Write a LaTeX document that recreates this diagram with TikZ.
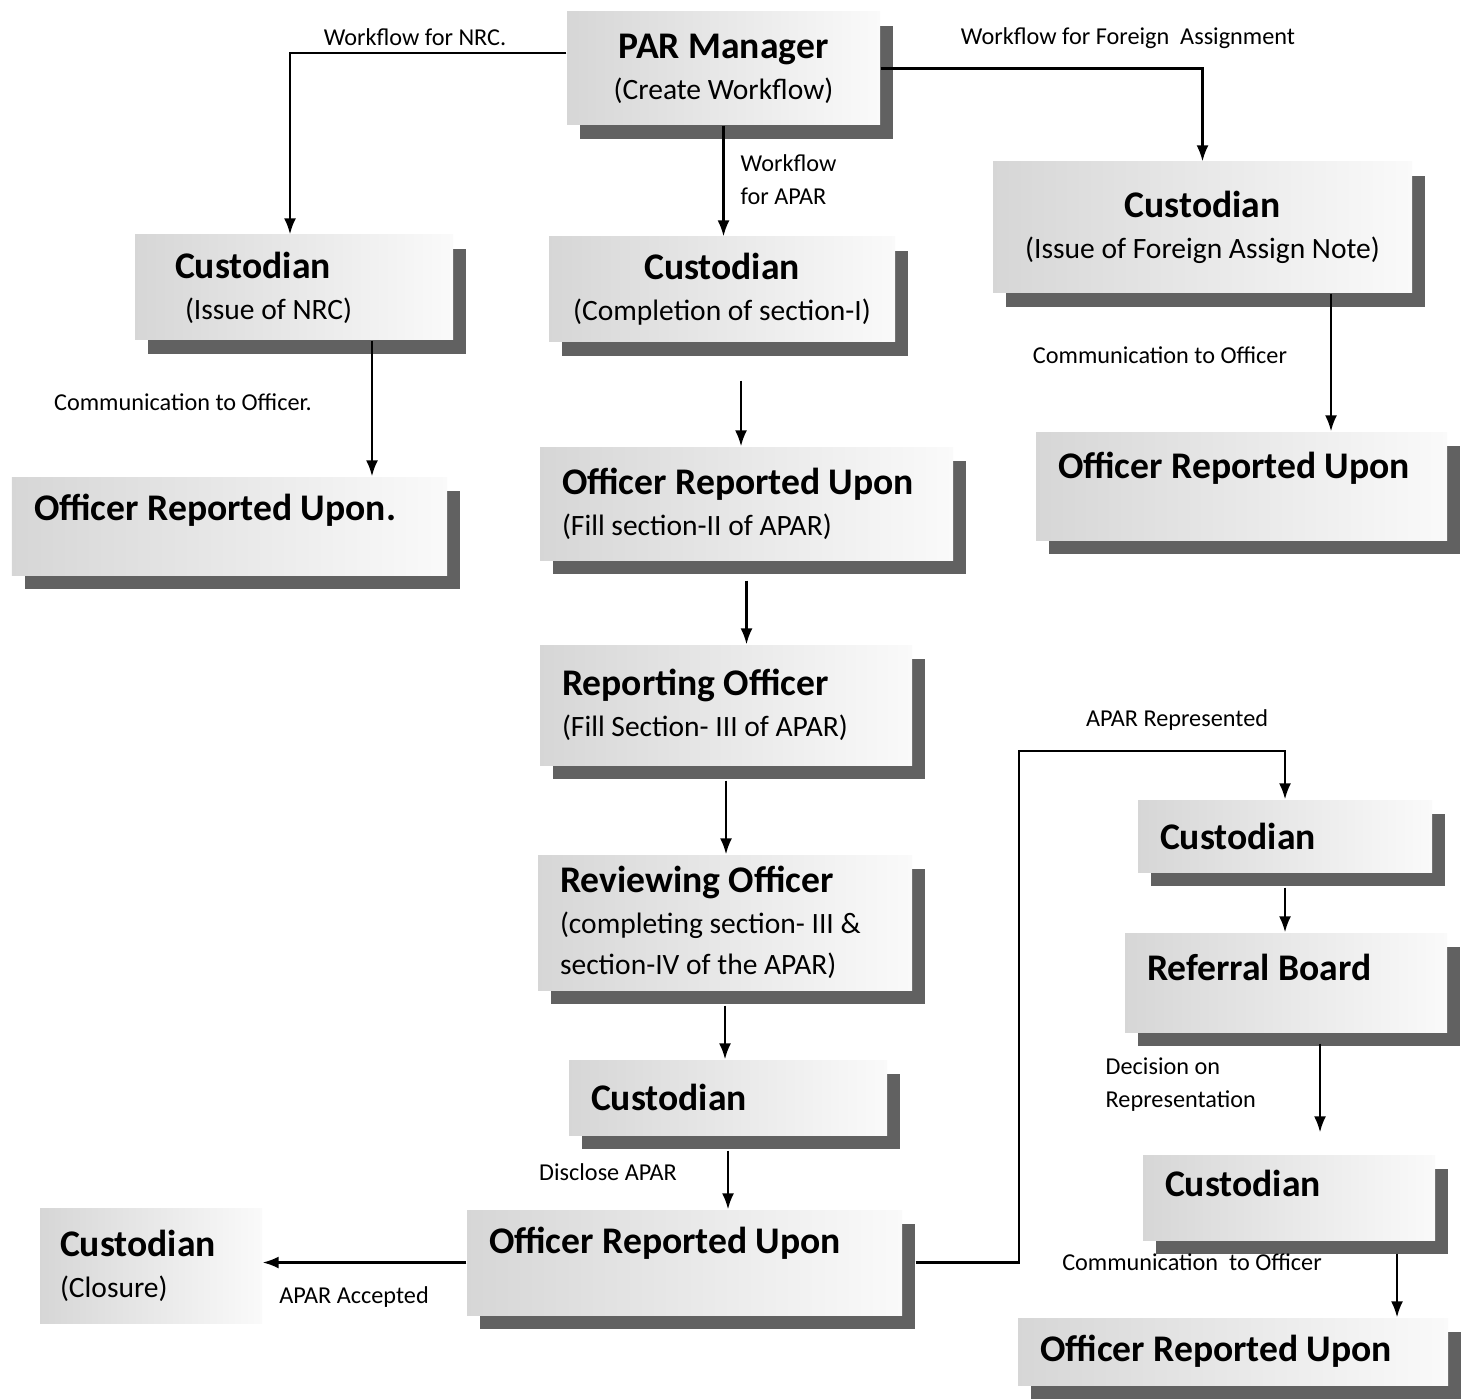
\documentclass[tikz,border=0pt]{standalone}
\usepackage{fontspec}
\setmainfont{Carlito}
\usepackage{tikz}
\usetikzlibrary{shadows,arrows.meta}
\newcommand{\boxtitle}[1]{{\fontsize{10.7}{12}\selectfont\bfseries #1}}

\begin{document}
\begin{tikzpicture}
\tikzstyle{box}=[rectangle, inner sep=2pt, align=center, left color=black!16, right color=black!2, drop shadow={shadow xshift=0.13cm, shadow yshift=-0.14cm, fill=black!62, opacity=1}, font=\fontsize{8.4}{11.7}\selectfont]
\tikzstyle{lbox}=[box, align=flush left, inner xsep=0.22cm]
\tikzstyle{endbox}=[rectangle, inner ysep=2pt, align=flush left, left color=black!16, right color=black!2, font=\fontsize{8.4}{11.7}\selectfont]
\tikzstyle{lbl}=[inner sep=0pt, font=\fontsize{6.9}{9.4}\selectfont]
\tikzstyle{connect}=[-{Latex[length=1.6mm,width=1.2mm]}, semithick]

\useasboundingbox (0,0) rectangle (14.62,-13.98);

	% APAR column
	\node[box, minimum width=3.13cm, minimum height=1.13cm] (par) at (7.235,-0.685) []{\boxtitle{PAR Manager}\\(Create Workflow)};
	\node[box, minimum width=3.46cm, minimum height=1.05cm] (comp) at (7.22,-2.895) []{\boxtitle{Custodian}\\(Completion of section-I)};
	\node[lbox, text width=3.69cm, minimum height=1.13cm, inner xsep=0.22cm] (offm) at (7.465,-5.035) []{\boxtitle{Officer Reported Upon}\\(Fill section-II of APAR)};
	\node[lbox, text width=3.28cm, minimum height=1.20cm] (rep) at (7.26,-7.05) []{\boxtitle{Reporting Officer}\\(Fill Section- III of APAR)};
	\node[lbox, text width=3.30cm, minimum height=1.35cm] (rev) at (7.25,-9.225) []{\boxtitle{Reviewing Officer}\\(completing section- III \&\\section-IV of the APAR)};
	\node[lbox, text width=2.74cm, minimum height=0.75cm] (cusm) at (7.28,-10.975) []{\boxtitle{Custodian}};
	\node[lbox, text width=3.91cm, minimum height=1.05cm, text depth=0.44cm] (offb) at (6.845,-12.625) []{\boxtitle{Officer Reported Upon}};
	\node[endbox, minimum height=1.15cm, text width=1.82cm, inner xsep=0.2cm] (clos) at (1.51,-12.655) []{\boxtitle{Custodian}\\(Closure)};

	% NRC and foreign assignment
	\node[lbox, text width=2.38cm, minimum height=1.05cm, inner xsep=0.40cm] (nrc) at (2.94,-2.875) []{\boxtitle{Custodian}\\\hspace*{0.1cm}(Issue of NRC)};
	\node[lbox, text width=3.91cm, minimum height=0.98cm, text depth=0.38cm] (offl) at (2.295,-5.26) []{\boxtitle{Officer Reported Upon.}};
	\node[box, minimum width=4.19cm, minimum height=1.31cm] (forn) at (12.025,-2.275) []{\boxtitle{Custodian}\\(Issue of Foreign Assign Note)};
	\node[lbox, text width=3.67cm, minimum height=1.08cm, text depth=0.42cm] (offr) at (12.415,-4.86) []{\boxtitle{Officer Reported Upon}};

	% representation
	\node[lbox, text width=2.50cm, minimum height=0.72cm] (cusr) at (12.85,-8.36) []{\boxtitle{Custodian}};
	\node[lbox, text width=2.78cm, minimum height=0.99cm, text depth=0.30cm] (refb) at (12.86,-9.825) []{\boxtitle{Referral Board}};
	\node[lbox, text width=2.48cm, minimum height=0.85cm, text depth=0.28cm] (cusl) at (12.89,-11.975) []{\boxtitle{Custodian}};
	\node[lbox, text width=3.86cm, minimum height=0.67cm] (offbr) at (12.33,-13.515) []{\boxtitle{Officer Reported Upon}};

	\node[lbl] (lnrc) at (4.15,-0.37) {Workflow for NRC.};
	\node[lbl] (lfor) at (11.28,-0.38) {Workflow for Foreign~ Assignment};
	\node[lbl, anchor=west, align=left] (lapar) at (7.40,-1.80) {Workflow\\for APAR};
	\node[lbl] (lcom1) at (1.83,-4.02) {Communication to Officer.};
	\node[lbl] (lcom2) at (11.60,-3.55) {Communication to Officer};
	\node[lbl] (ldis) at (6.08,-11.72) {Disclose APAR};
	\node[lbl] (lacc) at (3.54,-12.97) {APAR Accepted};
	\node[lbl] (lrep) at (11.77,-7.20) {APAR Represented};
	\node[lbl, anchor=west, align=left] (ldec) at (11.05,-10.85) {Decision on\\Representation};
	\node[lbl] (lcom3) at (11.92,-12.62) {Communication~ to Officer};

	\draw[connect] ([yshift=0.155cm]par.west) -| ([xshift=-0.04cm]nrc.north);
	\draw[connect] (par.east) -| (forn.north);
	\draw[connect] (par.south) -- (par.south |- comp.north);
	\draw[connect] ([xshift=0.78cm]nrc.south) -- ([xshift=0.78cm]nrc.south |- offl.north);
	\draw[connect] ([xshift=1.285cm]forn.south) -- ([xshift=1.285cm]forn.south |- offr.north);
	\draw[connect] ([xshift=0.19cm,yshift=-0.38cm]comp.south) -- ([xshift=0.19cm]comp.south |- offm.north);
	\draw[connect] ([yshift=-0.2cm]offm.south) -- (offm.south |- rep.north);
	\draw[connect] ([yshift=-0.15cm]rep.south) -- (rep.south |- rev.north);
	\draw[connect] ([yshift=-0.15cm]rev.south) -- (rev.south |- cusm.north);
	\draw[connect] ([yshift=-0.15cm]cusm.south) -- (cusm.south |- offb.north);
	\draw[connect] (offb.west) -- (offb.west -| clos.east);
	\draw[connect] ([xshift=0.13cm]offb.east) -- ++(1.03,0) |- ([yshift=0.48cm]cusr.north) -- (cusr.north);
	\draw[connect] ([yshift=-0.15cm]cusr.south) -- (cusr.south |- refb.north);
	\draw[connect] ([xshift=0.34cm,yshift=-0.11cm]refb.south) -- ([xshift=0.34cm,yshift=0.22cm]refb.south |- cusl.north);
	\draw[connect] ([xshift=1.08cm,yshift=-0.13cm]cusl.south) -- ([xshift=1.08cm]cusl.south |- offbr.north);

\end{tikzpicture}
\end{document}
